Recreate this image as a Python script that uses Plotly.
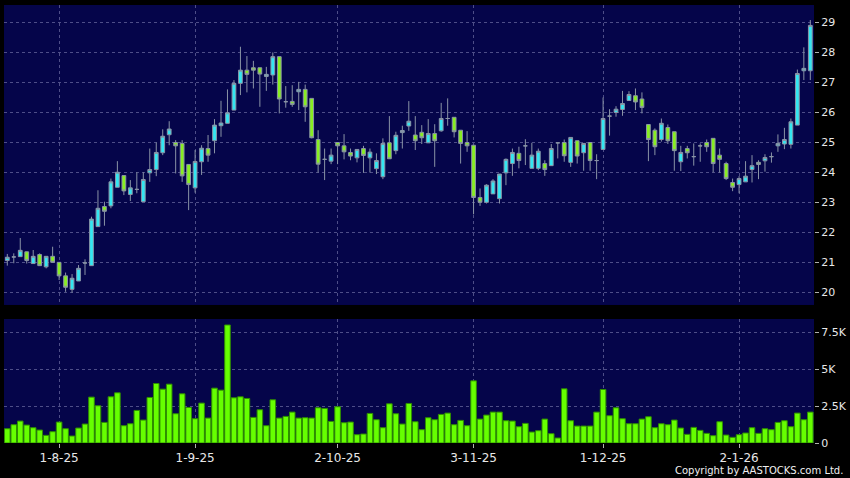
import plotly.graph_objects as go

# ---- data ----
opens = [21.06, 21.18, 21.19, 21.35, 20.96, 21.26, 20.85, 21.20, 21.00, 20.55,
         20.10, 20.38, 20.98, 20.89, 22.19, 22.86, 22.88, 23.50, 23.89, 23.26,
         23.43, 23.02, 23.98, 24.09, 24.65, 25.25, 24.99, 24.96, 24.26, 23.48,
         24.35, 24.79, 25.05, 25.55, 25.63, 26.07, 26.96, 27.40, 27.48, 27.48,
         27.19, 27.24, 27.85, 26.35, 26.36, 26.68, 26.76, 26.46, 25.09, 24.43,
         24.37, 24.99, 24.88, 24.66, 24.48, 24.79, 24.48, 24.12, 23.85, 24.98,
         24.72, 25.32, 25.54, 25.24, 25.33, 24.98, 25.29, 25.38, 25.79, 25.83,
         25.40, 24.99, 24.90, 23.16, 23.00, 23.28, 23.12, 23.98, 24.29, 24.63,
         24.88, 24.13, 24.13, 24.29, 24.22, 24.98, 24.99, 24.33, 25.05, 24.65,
         24.99, 24.39, 24.76, 25.87, 25.99, 26.09, 26.39, 26.55, 26.44, 25.59,
         25.40, 25.09, 25.49, 25.35, 24.35, 24.79, 24.52, 24.88, 24.99, 25.13,
         24.57, 24.29, 23.66, 23.59, 23.68, 24.09, 24.33, 24.38, 24.52, 24.88,
         24.94, 24.93, 25.57, 27.38, 27.38]
closes = [21.17, 21.18, 21.40, 21.06, 21.20, 20.89, 21.20, 21.00, 20.55, 20.17,
          20.47, 20.80, 20.98, 22.44, 22.80, 22.70, 23.68, 24.00, 23.38, 23.48,
          23.43, 23.76, 24.09, 24.66, 25.20, 25.44, 24.88, 23.88, 23.59, 24.36,
          24.80, 24.57, 25.57, 25.64, 25.98, 26.96, 27.40, 27.26, 27.40, 27.27,
          27.26, 27.85, 26.44, 26.35, 26.26, 26.76, 26.18, 25.15, 24.27, 24.43,
          24.57, 24.88, 24.68, 24.54, 24.76, 24.56, 24.67, 24.39, 24.96, 24.45,
          25.23, 25.39, 25.70, 25.05, 25.15, 25.29, 25.05, 25.79, 25.79, 25.35,
          24.96, 24.88, 23.16, 23.00, 23.57, 23.71, 23.94, 24.43, 24.66, 24.39,
          24.88, 24.57, 24.70, 24.09, 24.79, 24.98, 24.55, 25.16, 24.54, 24.96,
          24.39, 24.39, 25.79, 25.87, 26.10, 26.29, 26.59, 26.34, 26.16, 25.09,
          24.85, 25.63, 25.05, 24.72, 24.66, 24.65, 24.52, 24.88, 24.85, 24.29,
          24.43, 23.79, 23.50, 23.79, 23.87, 24.22, 24.26, 24.49, 24.52, 24.96,
          25.09, 25.68, 27.29, 27.46, 28.89]
highs = [21.28, 21.30, 21.81, 21.36, 21.41, 21.30, 21.20, 21.52, 21.00, 20.66,
         20.61, 20.91, 21.10, 22.52, 23.40, 23.02, 23.79, 24.37, 23.90, 23.74,
         24.00, 24.00, 24.79, 24.99, 25.43, 25.70, 25.07, 25.07, 24.26, 24.74,
         24.90, 25.24, 25.77, 26.38, 26.76, 27.07, 28.18, 27.87, 27.71, 27.48,
         27.51, 27.99, 27.85, 26.87, 26.90, 27.01, 26.92, 26.46, 25.40, 24.79,
         24.79, 25.00, 25.27, 24.79, 24.76, 24.88, 24.79, 24.63, 25.13, 25.87,
         25.35, 25.55, 26.37, 25.87, 25.57, 25.77, 25.60, 26.31, 26.46, 25.83,
         25.40, 25.37, 24.90, 23.46, 23.60, 23.77, 23.94, 24.46, 24.79, 24.85,
         25.10, 24.98, 24.79, 24.40, 24.94, 24.98, 25.09, 25.16, 25.05, 24.96,
         24.99, 24.60, 26.49, 26.10, 26.20, 26.71, 26.70, 26.79, 26.66, 25.60,
         25.46, 25.79, 25.59, 25.35, 24.88, 24.88, 24.96, 24.96, 25.09, 25.13,
         24.79, 24.35, 23.79, 23.87, 24.37, 24.57, 24.40, 24.60, 24.66, 25.26,
         25.48, 25.79, 27.42, 28.16, 29.07]
lows = [20.89, 20.97, 21.19, 20.96, 20.96, 20.89, 20.80, 21.00, 20.41, 20.02,
        19.99, 20.38, 20.58, 20.89, 22.19, 22.22, 22.80, 23.50, 23.24, 23.04,
        23.30, 23.02, 23.68, 23.87, 24.57, 24.90, 23.96, 23.68, 22.74, 23.32,
        23.91, 24.35, 24.63, 25.18, 25.63, 26.07, 26.57, 26.66, 26.79, 26.18,
        26.71, 26.92, 25.96, 26.15, 26.18, 26.07, 25.68, 25.13, 23.99, 23.74,
        24.27, 24.27, 24.43, 24.40, 24.33, 23.98, 23.99, 23.94, 23.77, 24.45,
        24.60, 24.79, 25.38, 24.74, 24.94, 24.98, 24.18, 25.35, 25.55, 25.16,
        24.29, 24.68, 22.60, 22.88, 22.96, 23.28, 22.96, 23.57, 23.88, 24.13,
        24.24, 24.13, 24.07, 23.88, 24.22, 24.46, 24.35, 24.18, 24.29, 24.05,
        24.05, 23.77, 24.76, 25.22, 25.85, 25.88, 26.39, 26.07, 25.96, 24.37,
        24.57, 25.02, 24.94, 24.05, 24.04, 24.46, 24.22, 24.35, 24.68, 24.00,
        23.99, 23.74, 23.37, 23.30, 23.68, 23.66, 23.77, 24.02, 24.32, 24.68,
        24.77, 24.79, 25.57, 27.07, 27.07]
volumes = [968, 1239, 1486, 1216, 1036, 878, 518, 766, 1419, 968,
           473, 1013, 1284, 3108, 2522, 1396, 3130, 3400, 1171, 1306,
           2207, 1554, 3085, 4031, 3648, 3986, 1982, 3333, 2410, 1644,
           2702, 1689, 3716, 3581, 7995, 3063, 3130, 3018, 1734, 2252,
           1171, 2928, 1689, 1802, 2094, 1689, 1712, 1689, 2387, 2342,
           1464, 2455, 1374, 1419, 563, 608, 2004, 1576, 1036, 2657,
           1982, 1284, 2680, 1441, 901, 1712, 1576, 1937, 2027, 1239,
           1531, 1171, 4211, 1621, 1892, 2094, 2094, 1509, 1486, 1103,
           1329, 743, 833, 1621, 631, 338, 3671, 1509, 1148, 1148,
           1148, 2094, 3626, 1847, 2387, 1644, 1306, 1306, 1621, 1779,
           1036, 1306, 1239, 1554, 1013, 586, 1058, 856, 653, 495,
           1441, 540, 383, 563, 676, 1036, 653, 968, 901, 1396,
           1509, 1103, 2027, 1576, 2094]
x_idx = list(range(len(opens)))
tick_idx = [8, 29, 51, 72, 92, 113]
tick_text = ["1-8-25", "1-9-25", "2-10-25", "3-11-25", "1-12-25", "2-1-26"]
price_ticks = [20, 21, 22, 23, 24, 25, 26, 27, 28, 29]
vol_ticks = [0, 2500, 5000, 7500]
vol_tick_text = ["0", "2.5K", "5K", "7.5K"]

PANEL = "#05054A"
GRID = "#4E4E88"
DASH = "3px,3px"
XFONT = dict(family="DejaVu Sans", size=12, color="#E8E8E8")
YFONT = dict(family="DejaVu Sans", size=11, color="#E8E8E8")

fig = go.Figure()
fig.add_trace(go.Candlestick(
    x=x_idx, open=opens, high=highs, low=lows, close=closes,
    increasing=dict(fillcolor="#33E6F2", line=dict(color="#8A94A6", width=1)),
    decreasing=dict(fillcolor="#88EE22", line=dict(color="#8A94A6", width=1)),
    whiskerwidth=0, xaxis="x", yaxis="y", showlegend=False, hoverinfo="skip"))
fig.add_trace(go.Bar(
    x=x_idx, y=volumes, marker=dict(color="#66FF00", line=dict(color="#2F8F00", width=1)),
    xaxis="x2", yaxis="y2", showlegend=False, hoverinfo="skip"))

xr = [-0.51, 124.57]
common_x = dict(range=xr, tickmode="array", tickvals=tick_idx, showgrid=True,
                gridcolor=GRID, griddash=DASH, gridwidth=1, zeroline=False,
                showline=False, fixedrange=True)
fig.update_layout(
    width=850, height=478, paper_bgcolor="black", plot_bgcolor=PANEL,
    margin=dict(l=4, r=36, t=5, b=35), boxgap=0.17, bargap=0.14,
    font=XFONT,
    xaxis=dict(**common_x, domain=[0, 1], anchor="y", showticklabels=False,
               ticks="", rangeslider=dict(visible=False)),
    yaxis=dict(domain=[0.3151, 1], range=[19.58, 29.57], side="right",
               tickvals=price_ticks, showgrid=True, gridcolor=GRID, griddash=DASH,
               zeroline=False, ticks="outside", ticklen=4, tickcolor="#B0B0B0",
               tickfont=YFONT, anchor="x", fixedrange=True),
    xaxis2=dict(**common_x, domain=[0, 1], anchor="y2", ticktext=tick_text,
                ticks="outside", ticklen=4, tickcolor="#B0B0B0", tickfont=XFONT),
    yaxis2=dict(domain=[0, 0.2831], range=[0, 8400], side="right",
                tickvals=vol_ticks, ticktext=vol_tick_text, showgrid=True,
                gridcolor=GRID, griddash=DASH, zeroline=False, ticks="outside",
                ticklen=4, tickcolor="#B0B0B0", tickfont=YFONT, anchor="x2",
                fixedrange=True),
    annotations=[dict(text="Copyright by AASTOCKS.com Ltd.", xref="paper", yref="paper",
                      x=1.038, y=-0.062, xanchor="right", yanchor="middle", showarrow=False,
                      font=dict(family="DejaVu Sans", size=10, color="#F0F0F0"))],
)
fig.write_html("out.html", config={"displayModeBar": False},
               post_script="document.body.style.margin='0';document.body.style.background='black';")
